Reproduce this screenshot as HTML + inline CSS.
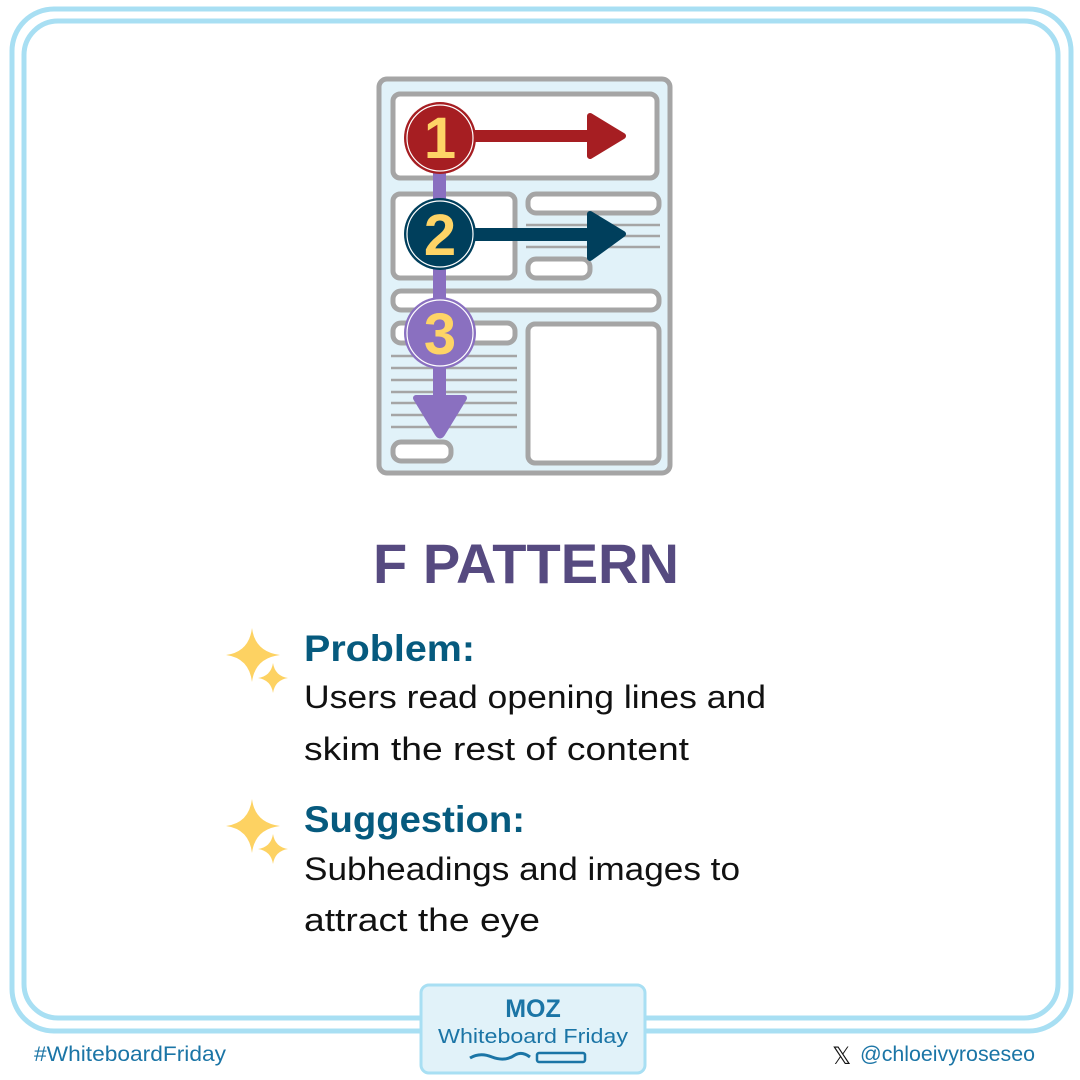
<!DOCTYPE html>
<html><head><meta charset="utf-8"><style>
body{margin:0;background:#fff;}
svg{display:block}
text{font-family:"Liberation Sans",sans-serif}
</style></head><body>
<svg width="1080" height="1080" viewBox="0 0 1080 1080" xmlns="http://www.w3.org/2000/svg">
<rect x="12" y="9" width="1059" height="1022" rx="42" fill="none" stroke="#a8dff3" stroke-width="5"/>
<rect x="24" y="21" width="1034" height="997" rx="34" fill="none" stroke="#a8dff3" stroke-width="5"/>
<g stroke="#a5a5a5" stroke-width="5" fill="#fff">
<rect x="379" y="79" width="291" height="394" rx="8" fill="#e1f2f9"/>
<rect x="393" y="94" width="264" height="84" rx="7"/>
<rect x="393" y="194" width="122" height="84" rx="7"/>
<rect x="528" y="194" width="131" height="19" rx="8"/>
<rect x="528" y="259" width="62" height="19" rx="8"/>
<rect x="393" y="291" width="266" height="19" rx="8"/>
<rect x="393" y="323" width="122" height="20" rx="8"/>
<rect x="528" y="324" width="131" height="139" rx="7"/>
<rect x="393" y="442" width="58" height="19" rx="8"/>
</g>
<g stroke="#a5a5a5" stroke-width="2.5">
<line x1="526" y1="225" x2="660" y2="225"/><line x1="526" y1="236" x2="660" y2="236"/><line x1="526" y1="247" x2="660" y2="247"/>
<line x1="391" y1="356" x2="517" y2="356"/><line x1="391" y1="368" x2="517" y2="368"/><line x1="391" y1="380" x2="517" y2="380"/><line x1="391" y1="392" x2="517" y2="392"/><line x1="391" y1="403" x2="517" y2="403"/><line x1="391" y1="415" x2="517" y2="415"/><line x1="391" y1="427" x2="517" y2="427"/>
</g>
<rect x="433" y="165" width="13" height="240" fill="#8a70c0"/>
<path d="M416 398 L464 398 L442 434 Q440 437 438 434 Z" fill="#8a70c0" stroke="#8a70c0" stroke-width="6" stroke-linejoin="round"/>
<rect x="470" y="130" width="120" height="12" fill="#a61e22"/>
<path d="M590 116 L623 136 L590 156 Z" fill="#a61e22" stroke="#a61e22" stroke-width="6" stroke-linejoin="round"/>
<rect x="470" y="228" width="120" height="13" fill="#003f5c"/>
<path d="M590 214 L623 234 L590 258 Z" fill="#003f5c" stroke="#003f5c" stroke-width="6" stroke-linejoin="round"/>
<circle cx="440" cy="138" r="36" fill="#a61e22"/><circle cx="440" cy="138" r="33" fill="none" stroke="#fff" stroke-width="1.2"/>
<text x="440" y="158" text-anchor="middle" font-size="58" font-weight="bold" fill="#fed466" font-family="Liberation Serif,serif">1</text>
<circle cx="440" cy="234" r="36" fill="#003f5c"/><circle cx="440" cy="234" r="33" fill="none" stroke="#fff" stroke-width="1.2"/>
<text x="440" y="255" text-anchor="middle" font-size="58" font-weight="bold" fill="#fed466" font-family="Liberation Serif,serif">2</text>
<circle cx="440" cy="333" r="36" fill="#8a70c0"/><circle cx="440" cy="333" r="33" fill="none" stroke="#fff" stroke-width="1.2"/>
<text x="440" y="354" text-anchor="middle" font-size="58" font-weight="bold" fill="#fed466" font-family="Liberation Serif,serif">3</text>
<text x="526" y="583" text-anchor="middle" font-size="56" font-weight="bold" fill="#564a80">F PATTERN</text>
<g fill="#fdd262">
<path d="M252 628 Q255 652 280 655 Q255 658 252 682 Q249 658 226 655 Q249 652 252 628Z"/>
<path d="M273 663 Q275 676 288 678 Q275 680 273 693 Q271 680 258 678 Q271 676 273 663Z"/>
<path d="M252 799 Q255 823 280 826 Q255 829 252 853 Q249 829 226 826 Q249 823 252 799Z"/>
<path d="M273 834 Q275 847 288 849 Q275 851 273 864 Q271 851 258 849 Q271 847 273 834Z"/>
</g>
<text x="304" y="661" font-size="37" font-weight="bold" fill="#065a7e" textLength="171" lengthAdjust="spacingAndGlyphs">Problem:</text>
<text x="304" y="708" font-size="32" fill="#111" textLength="462" lengthAdjust="spacingAndGlyphs">Users read opening lines and</text>
<text x="304" y="760" font-size="32" fill="#111" textLength="385" lengthAdjust="spacingAndGlyphs">skim the rest of content</text>
<text x="304" y="832" font-size="37" font-weight="bold" fill="#065a7e" textLength="221" lengthAdjust="spacingAndGlyphs">Suggestion:</text>
<text x="304" y="880" font-size="32" fill="#111" textLength="436" lengthAdjust="spacingAndGlyphs">Subheadings and images to</text>
<text x="304" y="931" font-size="32" fill="#111" textLength="236" lengthAdjust="spacingAndGlyphs">attract the eye</text>
<rect x="421" y="985" width="224" height="88" rx="8" fill="#e1f2f9" stroke="#a8dff3" stroke-width="3"/>
<text x="533" y="1017" text-anchor="middle" font-size="25" font-weight="bold" fill="#1b75a6">MOZ</text>
<text x="438" y="1043" font-size="20" fill="#1b75a6" font-family="DejaVu Serif,serif" textLength="190" lengthAdjust="spacingAndGlyphs">Whiteboard Friday</text>
<path d="M470 1058 Q480 1052 492 1057 Q505 1062 515 1055 Q522 1051 530 1057" fill="none" stroke="#1b75a6" stroke-width="3"/>
<rect x="537" y="1053" width="48" height="9" rx="2" fill="none" stroke="#1b75a6" stroke-width="2.5"/>
<text x="34" y="1061" font-size="21" fill="#1b75a6" textLength="192" lengthAdjust="spacingAndGlyphs">#WhiteboardFriday</text>
<text x="832" y="1064" font-size="24" fill="#111">𝕏</text>
<text x="860" y="1061" font-size="21" fill="#1b75a6" textLength="175" lengthAdjust="spacingAndGlyphs">@chloeivyroseseo</text>
</svg>
</body></html>
